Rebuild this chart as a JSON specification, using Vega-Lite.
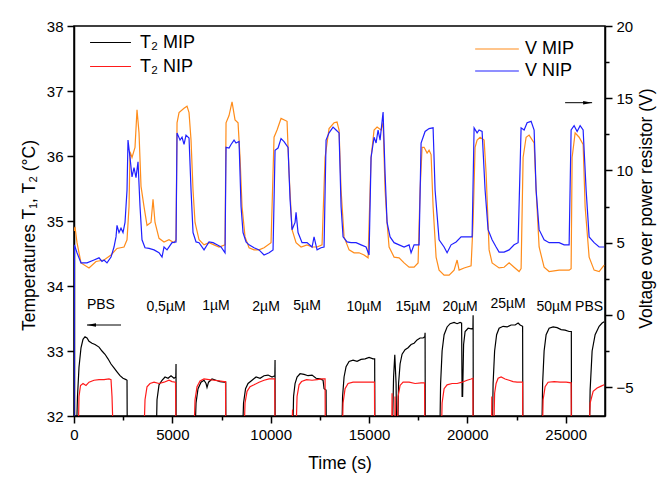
{
"$schema": "https://vega.github.io/schema/vega-lite/v6.json",
"width": 531, "height": 390,
"autosize": {"type": "none"},
"padding": {"left": 74, "top": 26, "right": 52, "bottom": 61},
"config": {
 "font": "Liberation Sans",
 "view": {"stroke": "black", "strokeWidth": 1.5},
 "axis": {"grid": false, "domainColor": "black", "domainWidth": 1.5, "tickColor": "black", "tickWidth": 1.5, "labelColor": "black", "titleColor": "black", "labelFontSize": 15, "titleFontSize": 17.5, "titleFontWeight": "normal", "labelFont": "Liberation Sans", "titleFont": "Liberation Sans"},
 "legend": {"labelFont": "Liberation Sans", "labelFontSize": 18, "labelColor": "black"}
},
"datasets": {
 "temp": [
  {"g":"T₂ MIP","t":0,"T":31.5},{"g":"T₂ MIP","t":102,"T":31.5},{"g":"T₂ MIP","t":178,"T":32.3},{"g":"T₂ MIP","t":254,"T":32.75},{"g":"T₂ MIP","t":356,"T":33.05},{"g":"T₂ MIP","t":458,"T":33.18},{"g":"T₂ MIP","t":559,"T":33.22},{"g":"T₂ MIP","t":661,"T":33.2},{"g":"T₂ MIP","t":763,"T":33.15},{"g":"T₂ MIP","t":915,"T":33.12},{"g":"T₂ MIP","t":1068,"T":33.1},{"g":"T₂ MIP","t":1272,"T":33.06},{"g":"T₂ MIP","t":1424,"T":33.0},{"g":"T₂ MIP","t":1577,"T":32.95},{"g":"T₂ MIP","t":1729,"T":32.88},{"g":"T₂ MIP","t":1882,"T":32.8},{"g":"T₂ MIP","t":2034,"T":32.74},{"g":"T₂ MIP","t":2187,"T":32.68},{"g":"T₂ MIP","t":2340,"T":32.62},{"g":"T₂ MIP","t":2492,"T":32.58},{"g":"T₂ MIP","t":2645,"T":32.56},{"g":"T₂ MIP","t":2696,"T":32.55},{"g":"T₂ MIP","t":2711,"T":31.5},
  {"g":"T₂ MIP","t":4171,"T":31.5},{"g":"T₂ MIP","t":4221,"T":32.25},{"g":"T₂ MIP","t":4323,"T":32.48},{"g":"T₂ MIP","t":4476,"T":32.55},{"g":"T₂ MIP","t":4628,"T":32.6},{"g":"T₂ MIP","t":4781,"T":32.58},{"g":"T₂ MIP","t":4933,"T":32.62},{"g":"T₂ MIP","t":5086,"T":32.58},{"g":"T₂ MIP","t":5178,"T":32.6},{"g":"T₂ MIP","t":5188,"T":32.8},{"g":"T₂ MIP","t":5193,"T":31.5},
  {"g":"T₂ MIP","t":6129,"T":31.5},{"g":"T₂ MIP","t":6205,"T":32.2},{"g":"T₂ MIP","t":6306,"T":32.42},{"g":"T₂ MIP","t":6459,"T":32.52},{"g":"T₂ MIP","t":6612,"T":32.55},{"g":"T₂ MIP","t":6714,"T":32.5},{"g":"T₂ MIP","t":6764,"T":32.44},{"g":"T₂ MIP","t":6841,"T":32.52},{"g":"T₂ MIP","t":7019,"T":32.57},{"g":"T₂ MIP","t":7222,"T":32.55},{"g":"T₂ MIP","t":7426,"T":32.53},{"g":"T₂ MIP","t":7629,"T":32.52},{"g":"T₂ MIP","t":7715,"T":32.52},{"g":"T₂ MIP","t":7725,"T":31.5},
  {"g":"T₂ MIP","t":8544,"T":31.5},{"g":"T₂ MIP","t":8621,"T":32.2},{"g":"T₂ MIP","t":8723,"T":32.42},{"g":"T₂ MIP","t":8850,"T":32.5},{"g":"T₂ MIP","t":9053,"T":32.55},{"g":"T₂ MIP","t":9257,"T":32.6},{"g":"T₂ MIP","t":9460,"T":32.58},{"g":"T₂ MIP","t":9663,"T":32.62},{"g":"T₂ MIP","t":9867,"T":32.63},{"g":"T₂ MIP","t":10070,"T":32.6},{"g":"T₂ MIP","t":10213,"T":32.62},{"g":"T₂ MIP","t":10223,"T":32.86},{"g":"T₂ MIP","t":10228,"T":31.5},
  {"g":"T₂ MIP","t":11113,"T":31.5},{"g":"T₂ MIP","t":11164,"T":32.3},{"g":"T₂ MIP","t":11240,"T":32.5},{"g":"T₂ MIP","t":11342,"T":32.6},{"g":"T₂ MIP","t":11494,"T":32.65},{"g":"T₂ MIP","t":11698,"T":32.64},{"g":"T₂ MIP","t":11901,"T":32.62},{"g":"T₂ MIP","t":12105,"T":32.63},{"g":"T₂ MIP","t":12308,"T":32.58},{"g":"T₂ MIP","t":12512,"T":32.57},{"g":"T₂ MIP","t":12664,"T":32.55},{"g":"T₂ MIP","t":12715,"T":32.42},{"g":"T₂ MIP","t":12817,"T":32.4},{"g":"T₂ MIP","t":12832,"T":31.5},
  {"g":"T₂ MIP","t":13605,"T":31.5},{"g":"T₂ MIP","t":13656,"T":32.3},{"g":"T₂ MIP","t":13732,"T":32.6},{"g":"T₂ MIP","t":13834,"T":32.76},{"g":"T₂ MIP","t":13987,"T":32.84},{"g":"T₂ MIP","t":14190,"T":32.86},{"g":"T₂ MIP","t":14393,"T":32.84},{"g":"T₂ MIP","t":14597,"T":32.87},{"g":"T₂ MIP","t":14800,"T":32.88},{"g":"T₂ MIP","t":15004,"T":32.9},{"g":"T₂ MIP","t":15207,"T":32.88},{"g":"T₂ MIP","t":15288,"T":32.88},{"g":"T₂ MIP","t":15303,"T":31.5},
  {"g":"T₂ MIP","t":16173,"T":31.5},{"g":"T₂ MIP","t":16250,"T":32.6},{"g":"T₂ MIP","t":16311,"T":32.94},{"g":"T₂ MIP","t":16377,"T":32.5},{"g":"T₂ MIP","t":16412,"T":31.5},{"g":"T₂ MIP","t":16443,"T":31.5},{"g":"T₂ MIP","t":16504,"T":32.5},{"g":"T₂ MIP","t":16580,"T":32.8},{"g":"T₂ MIP","t":16682,"T":32.95},{"g":"T₂ MIP","t":16834,"T":33.02},{"g":"T₂ MIP","t":16987,"T":33.05},{"g":"T₂ MIP","t":17140,"T":33.1},{"g":"T₂ MIP","t":17292,"T":33.12},{"g":"T₂ MIP","t":17445,"T":33.17},{"g":"T₂ MIP","t":17598,"T":33.2},{"g":"T₂ MIP","t":17750,"T":33.2},{"g":"T₂ MIP","t":17837,"T":33.22},{"g":"T₂ MIP","t":17852,"T":33.28},{"g":"T₂ MIP","t":17862,"T":31.5},
  {"g":"T₂ MIP","t":18590,"T":31.5},{"g":"T₂ MIP","t":18641,"T":32.5},{"g":"T₂ MIP","t":18717,"T":33.0},{"g":"T₂ MIP","t":18819,"T":33.25},{"g":"T₂ MIP","t":18971,"T":33.37},{"g":"T₂ MIP","t":19124,"T":33.42},{"g":"T₂ MIP","t":19327,"T":33.44},{"g":"T₂ MIP","t":19480,"T":33.42},{"g":"T₂ MIP","t":19632,"T":33.44},{"g":"T₂ MIP","t":19709,"T":33.43},{"g":"T₂ MIP","t":19734,"T":32.3},{"g":"T₂ MIP","t":19760,"T":32.3},{"g":"T₂ MIP","t":19810,"T":33.1},{"g":"T₂ MIP","t":19887,"T":33.3},{"g":"T₂ MIP","t":20040,"T":33.35},{"g":"T₂ MIP","t":20192,"T":33.34},{"g":"T₂ MIP","t":20284,"T":33.35},{"g":"T₂ MIP","t":20294,"T":33.55},{"g":"T₂ MIP","t":20304,"T":31.5},
  {"g":"T₂ MIP","t":21260,"T":31.5},{"g":"T₂ MIP","t":21310,"T":32.5},{"g":"T₂ MIP","t":21387,"T":33.0},{"g":"T₂ MIP","t":21489,"T":33.25},{"g":"T₂ MIP","t":21616,"T":33.35},{"g":"T₂ MIP","t":21820,"T":33.38},{"g":"T₂ MIP","t":22023,"T":33.37},{"g":"T₂ MIP","t":22226,"T":33.4},{"g":"T₂ MIP","t":22430,"T":33.4},{"g":"T₂ MIP","t":22582,"T":33.43},{"g":"T₂ MIP","t":22684,"T":33.4},{"g":"T₂ MIP","t":22811,"T":33.38},{"g":"T₂ MIP","t":22826,"T":31.5},
  {"g":"T₂ MIP","t":23777,"T":31.5},{"g":"T₂ MIP","t":23828,"T":32.5},{"g":"T₂ MIP","t":23904,"T":33.0},{"g":"T₂ MIP","t":24006,"T":33.25},{"g":"T₂ MIP","t":24159,"T":33.35},{"g":"T₂ MIP","t":24362,"T":33.37},{"g":"T₂ MIP","t":24565,"T":33.36},{"g":"T₂ MIP","t":24769,"T":33.33},{"g":"T₂ MIP","t":24972,"T":33.32},{"g":"T₂ MIP","t":25176,"T":33.3},{"g":"T₂ MIP","t":25288,"T":33.3},{"g":"T₂ MIP","t":25298,"T":31.5},
  {"g":"T₂ MIP","t":26193,"T":31.5},{"g":"T₂ MIP","t":26244,"T":32.4},{"g":"T₂ MIP","t":26345,"T":33.0},{"g":"T₂ MIP","t":26498,"T":33.25},{"g":"T₂ MIP","t":26702,"T":33.38},{"g":"T₂ MIP","t":26854,"T":33.43},{"g":"T₂ MIP","t":26956,"T":33.45},
  {"g":"T₂ NIP","t":0,"T":31.5},{"g":"T₂ NIP","t":203,"T":31.5},{"g":"T₂ NIP","t":254,"T":32.3},{"g":"T₂ NIP","t":331,"T":32.47},{"g":"T₂ NIP","t":458,"T":32.5},{"g":"T₂ NIP","t":610,"T":32.47},{"g":"T₂ NIP","t":763,"T":32.52},{"g":"T₂ NIP","t":1017,"T":32.55},{"g":"T₂ NIP","t":1272,"T":32.56},{"g":"T₂ NIP","t":1526,"T":32.56},{"g":"T₂ NIP","t":1780,"T":32.57},{"g":"T₂ NIP","t":1882,"T":32.56},{"g":"T₂ NIP","t":1933,"T":32.3},{"g":"T₂ NIP","t":1984,"T":31.8},{"g":"T₂ NIP","t":2034,"T":31.5},
  {"g":"T₂ NIP","t":3535,"T":31.5},{"g":"T₂ NIP","t":3611,"T":32.25},{"g":"T₂ NIP","t":3713,"T":32.45},{"g":"T₂ NIP","t":3865,"T":32.5},{"g":"T₂ NIP","t":4069,"T":32.52},{"g":"T₂ NIP","t":4323,"T":32.5},{"g":"T₂ NIP","t":4577,"T":32.52},{"g":"T₂ NIP","t":4831,"T":32.55},{"g":"T₂ NIP","t":4984,"T":32.53},{"g":"T₂ NIP","t":5162,"T":32.52},{"g":"T₂ NIP","t":5188,"T":31.5},
  {"g":"T₂ NIP","t":6079,"T":31.5},{"g":"T₂ NIP","t":6154,"T":32.25},{"g":"T₂ NIP","t":6256,"T":32.45},{"g":"T₂ NIP","t":6408,"T":32.54},{"g":"T₂ NIP","t":6612,"T":32.57},{"g":"T₂ NIP","t":6866,"T":32.56},{"g":"T₂ NIP","t":7120,"T":32.55},{"g":"T₂ NIP","t":7375,"T":32.54},{"g":"T₂ NIP","t":7629,"T":32.53},{"g":"T₂ NIP","t":7705,"T":32.53},{"g":"T₂ NIP","t":7720,"T":31.5},
  {"g":"T₂ NIP","t":8621,"T":31.5},{"g":"T₂ NIP","t":8697,"T":32.2},{"g":"T₂ NIP","t":8799,"T":32.38},{"g":"T₂ NIP","t":8951,"T":32.45},{"g":"T₂ NIP","t":9155,"T":32.48},{"g":"T₂ NIP","t":9409,"T":32.52},{"g":"T₂ NIP","t":9663,"T":32.55},{"g":"T₂ NIP","t":9918,"T":32.57},{"g":"T₂ NIP","t":10208,"T":32.57},{"g":"T₂ NIP","t":10223,"T":31.5},
  {"g":"T₂ NIP","t":11062,"T":31.5},{"g":"T₂ NIP","t":11113,"T":32.1},{"g":"T₂ NIP","t":11149,"T":31.5},{"g":"T₂ NIP","t":11266,"T":31.5},{"g":"T₂ NIP","t":11342,"T":32.3},{"g":"T₂ NIP","t":11444,"T":32.48},{"g":"T₂ NIP","t":11571,"T":32.53},{"g":"T₂ NIP","t":11825,"T":32.56},{"g":"T₂ NIP","t":12105,"T":32.55},{"g":"T₂ NIP","t":12359,"T":32.56},{"g":"T₂ NIP","t":12613,"T":32.57},{"g":"T₂ NIP","t":12766,"T":32.57},{"g":"T₂ NIP","t":12781,"T":31.5},
  {"g":"T₂ NIP","t":13630,"T":31.5},{"g":"T₂ NIP","t":13681,"T":32.2},{"g":"T₂ NIP","t":13783,"T":32.42},{"g":"T₂ NIP","t":13936,"T":32.5},{"g":"T₂ NIP","t":14190,"T":32.52},{"g":"T₂ NIP","t":14495,"T":32.52},{"g":"T₂ NIP","t":14800,"T":32.52},{"g":"T₂ NIP","t":15105,"T":32.52},{"g":"T₂ NIP","t":15278,"T":32.52},{"g":"T₂ NIP","t":15293,"T":31.5},
  {"g":"T₂ NIP","t":16148,"T":31.5},{"g":"T₂ NIP","t":16173,"T":32.35},{"g":"T₂ NIP","t":16199,"T":31.5},{"g":"T₂ NIP","t":16301,"T":31.5},{"g":"T₂ NIP","t":16326,"T":32.3},{"g":"T₂ NIP","t":16352,"T":31.5},{"g":"T₂ NIP","t":16428,"T":31.5},{"g":"T₂ NIP","t":16479,"T":32.3},{"g":"T₂ NIP","t":16580,"T":32.47},{"g":"T₂ NIP","t":16733,"T":32.52},{"g":"T₂ NIP","t":17038,"T":32.52},{"g":"T₂ NIP","t":17343,"T":32.5},{"g":"T₂ NIP","t":17648,"T":32.51},{"g":"T₂ NIP","t":17826,"T":32.51},{"g":"T₂ NIP","t":17842,"T":31.5},
  {"g":"T₂ NIP","t":18666,"T":31.5},{"g":"T₂ NIP","t":18717,"T":32.2},{"g":"T₂ NIP","t":18819,"T":32.42},{"g":"T₂ NIP","t":18971,"T":32.48},{"g":"T₂ NIP","t":19226,"T":32.5},{"g":"T₂ NIP","t":19480,"T":32.5},{"g":"T₂ NIP","t":19734,"T":32.52},{"g":"T₂ NIP","t":19989,"T":32.55},{"g":"T₂ NIP","t":20192,"T":32.57},{"g":"T₂ NIP","t":20284,"T":32.58},{"g":"T₂ NIP","t":20294,"T":31.5},
  {"g":"T₂ NIP","t":21225,"T":31.5},{"g":"T₂ NIP","t":21245,"T":32.3},{"g":"T₂ NIP","t":21265,"T":31.5},{"g":"T₂ NIP","t":21326,"T":31.5},{"g":"T₂ NIP","t":21387,"T":32.35},{"g":"T₂ NIP","t":21463,"T":32.5},{"g":"T₂ NIP","t":21565,"T":32.58},{"g":"T₂ NIP","t":21718,"T":32.6},{"g":"T₂ NIP","t":21921,"T":32.57},{"g":"T₂ NIP","t":22124,"T":32.55},{"g":"T₂ NIP","t":22328,"T":32.53},{"g":"T₂ NIP","t":22531,"T":32.52},{"g":"T₂ NIP","t":22811,"T":32.52},{"g":"T₂ NIP","t":22826,"T":31.5},
  {"g":"T₂ NIP","t":23802,"T":31.5},{"g":"T₂ NIP","t":23853,"T":32.25},{"g":"T₂ NIP","t":23955,"T":32.45},{"g":"T₂ NIP","t":24108,"T":32.52},{"g":"T₂ NIP","t":24413,"T":32.53},{"g":"T₂ NIP","t":24718,"T":32.52},{"g":"T₂ NIP","t":25023,"T":32.52},{"g":"T₂ NIP","t":25278,"T":32.51},{"g":"T₂ NIP","t":25293,"T":31.5},
  {"g":"T₂ NIP","t":26168,"T":31.5},{"g":"T₂ NIP","t":26244,"T":32.2},{"g":"T₂ NIP","t":26397,"T":32.38},{"g":"T₂ NIP","t":26600,"T":32.43},{"g":"T₂ NIP","t":26804,"T":32.46},{"g":"T₂ NIP","t":26956,"T":32.48}
 ],
 "volt": [
  {"s":"V MIP","t":0,"v":5.8},{"s":"V MIP","t":51,"v":6.1},{"s":"V MIP","t":153,"v":5.0},{"s":"V MIP","t":356,"v":3.6},{"s":"V MIP","t":763,"v":3.25},{"s":"V MIP","t":1119,"v":3.7},{"s":"V MIP","t":1526,"v":3.8},{"s":"V MIP","t":1882,"v":4.15},{"s":"V MIP","t":2187,"v":4.6},{"s":"V MIP","t":2543,"v":4.7},{"s":"V MIP","t":2696,"v":5.2},{"s":"V MIP","t":2798,"v":7.5},{"s":"V MIP","t":2848,"v":11.3},{"s":"V MIP","t":2950,"v":10.9},{"s":"V MIP","t":3102,"v":11.6},{"s":"V MIP","t":3204,"v":14.2},{"s":"V MIP","t":3306,"v":12.6},{"s":"V MIP","t":3408,"v":8.9},{"s":"V MIP","t":3560,"v":7.5},{"s":"V MIP","t":3713,"v":6.2},{"s":"V MIP","t":3916,"v":6.4},{"s":"V MIP","t":4018,"v":8.0},{"s":"V MIP","t":4120,"v":6.4},{"s":"V MIP","t":4323,"v":5.3},{"s":"V MIP","t":4577,"v":5.05},{"s":"V MIP","t":4831,"v":5.2},{"s":"V MIP","t":5086,"v":5.0},{"s":"V MIP","t":5188,"v":5.2},{"s":"V MIP","t":5239,"v":13.3},{"s":"V MIP","t":5341,"v":14.0},{"s":"V MIP","t":5595,"v":14.3},{"s":"V MIP","t":5747,"v":14.45},{"s":"V MIP","t":5849,"v":14.0},{"s":"V MIP","t":5951,"v":12.1},{"s":"V MIP","t":6052,"v":8.65},{"s":"V MIP","t":6154,"v":6.4},{"s":"V MIP","t":6358,"v":5.2},{"s":"V MIP","t":6612,"v":4.85},{"s":"V MIP","t":6866,"v":5.0},{"s":"V MIP","t":7120,"v":4.85},{"s":"V MIP","t":7375,"v":4.7},{"s":"V MIP","t":7680,"v":4.85},{"s":"V MIP","t":7731,"v":13.3},{"s":"V MIP","t":7883,"v":13.8},{"s":"V MIP","t":8036,"v":14.75},{"s":"V MIP","t":8188,"v":13.5},{"s":"V MIP","t":8341,"v":13.3},{"s":"V MIP","t":8443,"v":10.9},{"s":"V MIP","t":8544,"v":7.5},{"s":"V MIP","t":8697,"v":5.4},{"s":"V MIP","t":8901,"v":4.65},{"s":"V MIP","t":9155,"v":4.5},{"s":"V MIP","t":9409,"v":4.5},{"s":"V MIP","t":9663,"v":4.65},{"s":"V MIP","t":10019,"v":5.0},{"s":"V MIP","t":10172,"v":12.3},{"s":"V MIP","t":10325,"v":12.8},{"s":"V MIP","t":10528,"v":13.6},{"s":"V MIP","t":10833,"v":13.4},{"s":"V MIP","t":10935,"v":9.8},{"s":"V MIP","t":11087,"v":5.9},{"s":"V MIP","t":11291,"v":5.0},{"s":"V MIP","t":11545,"v":4.7},{"s":"V MIP","t":11850,"v":4.85},{"s":"V MIP","t":12105,"v":4.7},{"s":"V MIP","t":12359,"v":4.7},{"s":"V MIP","t":12613,"v":4.85},{"s":"V MIP","t":12766,"v":10.9},{"s":"V MIP","t":12969,"v":12.9},{"s":"V MIP","t":13224,"v":13.3},{"s":"V MIP","t":13376,"v":13.35},{"s":"V MIP","t":13478,"v":12.8},{"s":"V MIP","t":13580,"v":8.65},{"s":"V MIP","t":13732,"v":5.4},{"s":"V MIP","t":13987,"v":4.5},{"s":"V MIP","t":14241,"v":4.3},{"s":"V MIP","t":14495,"v":4.3},{"s":"V MIP","t":14749,"v":4.15},{"s":"V MIP","t":14953,"v":3.95},{"s":"V MIP","t":15105,"v":10.9},{"s":"V MIP","t":15258,"v":12.8},{"s":"V MIP","t":15411,"v":13.0},{"s":"V MIP","t":15614,"v":12.8},{"s":"V MIP","t":15716,"v":13.3},{"s":"V MIP","t":15817,"v":8.65},{"s":"V MIP","t":15919,"v":6.4},{"s":"V MIP","t":16021,"v":4.7},{"s":"V MIP","t":16275,"v":4.0},{"s":"V MIP","t":16530,"v":3.95},{"s":"V MIP","t":16784,"v":3.6},{"s":"V MIP","t":17038,"v":3.3},{"s":"V MIP","t":17292,"v":3.3},{"s":"V MIP","t":17496,"v":3.6},{"s":"V MIP","t":17598,"v":8.65},{"s":"V MIP","t":17699,"v":11.6},{"s":"V MIP","t":17801,"v":11.6},{"s":"V MIP","t":17954,"v":11.2},{"s":"V MIP","t":18055,"v":11.4},{"s":"V MIP","t":18157,"v":11.1},{"s":"V MIP","t":18259,"v":7.5},{"s":"V MIP","t":18411,"v":4.0},{"s":"V MIP","t":18564,"v":3.1},{"s":"V MIP","t":18818,"v":2.75},{"s":"V MIP","t":19073,"v":2.75},{"s":"V MIP","t":19327,"v":3.1},{"s":"V MIP","t":19480,"v":3.8},{"s":"V MIP","t":19581,"v":3.1},{"s":"V MIP","t":19835,"v":3.25},{"s":"V MIP","t":20191,"v":3.4},{"s":"V MIP","t":20293,"v":6.4},{"s":"V MIP","t":20394,"v":11.6},{"s":"V MIP","t":20497,"v":12.1},{"s":"V MIP","t":20649,"v":12.3},{"s":"V MIP","t":20853,"v":12.1},{"s":"V MIP","t":20955,"v":9.8},{"s":"V MIP","t":21107,"v":4.5},{"s":"V MIP","t":21259,"v":3.6},{"s":"V MIP","t":21615,"v":3.25},{"s":"V MIP","t":21870,"v":3.3},{"s":"V MIP","t":22124,"v":3.6},{"s":"V MIP","t":22378,"v":3.3},{"s":"V MIP","t":22633,"v":3.0},{"s":"V MIP","t":22734,"v":3.2},{"s":"V MIP","t":22836,"v":10.9},{"s":"V MIP","t":22989,"v":12.3},{"s":"V MIP","t":23141,"v":12.45},{"s":"V MIP","t":23396,"v":11.9},{"s":"V MIP","t":23497,"v":8.65},{"s":"V MIP","t":23650,"v":4.7},{"s":"V MIP","t":23904,"v":3.3},{"s":"V MIP","t":24159,"v":3.0},{"s":"V MIP","t":24667,"v":3.1},{"s":"V MIP","t":25176,"v":3.1},{"s":"V MIP","t":25277,"v":3.2},{"s":"V MIP","t":25328,"v":10.9},{"s":"V MIP","t":25481,"v":12.6},{"s":"V MIP","t":25684,"v":12.3},{"s":"V MIP","t":25888,"v":11.8},{"s":"V MIP","t":25989,"v":7.5},{"s":"V MIP","t":26193,"v":4.0},{"s":"V MIP","t":26447,"v":3.1},{"s":"V MIP","t":26702,"v":3.0},{"s":"V MIP","t":26956,"v":3.45},
  {"s":"V NIP","t":0,"v":-8},{"s":"V NIP","t":20,"v":4.85},{"s":"V NIP","t":153,"v":4.3},{"s":"V NIP","t":356,"v":3.6},{"s":"V NIP","t":661,"v":3.6},{"s":"V NIP","t":1017,"v":3.8},{"s":"V NIP","t":1272,"v":3.95},{"s":"V NIP","t":1424,"v":3.7},{"s":"V NIP","t":1526,"v":3.8},{"s":"V NIP","t":1678,"v":3.6},{"s":"V NIP","t":1882,"v":4.0},{"s":"V NIP","t":2034,"v":4.7},{"s":"V NIP","t":2136,"v":5.4},{"s":"V NIP","t":2187,"v":6.2},{"s":"V NIP","t":2289,"v":5.7},{"s":"V NIP","t":2390,"v":6.0},{"s":"V NIP","t":2492,"v":5.7},{"s":"V NIP","t":2594,"v":6.4},{"s":"V NIP","t":2696,"v":8.65},{"s":"V NIP","t":2746,"v":12.1},{"s":"V NIP","t":2848,"v":10.9},{"s":"V NIP","t":2950,"v":9.55},{"s":"V NIP","t":3052,"v":10.2},{"s":"V NIP","t":3153,"v":9.5},{"s":"V NIP","t":3255,"v":10.6},{"s":"V NIP","t":3357,"v":7.5},{"s":"V NIP","t":3458,"v":5.2},{"s":"V NIP","t":3611,"v":4.65},{"s":"V NIP","t":3815,"v":4.6},{"s":"V NIP","t":4069,"v":4.5},{"s":"V NIP","t":4323,"v":4.3},{"s":"V NIP","t":4476,"v":4.0},{"s":"V NIP","t":4577,"v":4.7},{"s":"V NIP","t":4730,"v":4.5},{"s":"V NIP","t":4984,"v":5.0},{"s":"V NIP","t":5188,"v":5.05},{"s":"V NIP","t":5239,"v":12.6},{"s":"V NIP","t":5392,"v":12.1},{"s":"V NIP","t":5493,"v":12.3},{"s":"V NIP","t":5595,"v":11.8},{"s":"V NIP","t":5696,"v":12.45},{"s":"V NIP","t":5849,"v":12.25},{"s":"V NIP","t":5951,"v":8.65},{"s":"V NIP","t":6052,"v":5.7},{"s":"V NIP","t":6205,"v":5.05},{"s":"V NIP","t":6358,"v":5.0},{"s":"V NIP","t":6612,"v":4.5},{"s":"V NIP","t":6866,"v":5.05},{"s":"V NIP","t":7070,"v":5.0},{"s":"V NIP","t":7273,"v":4.85},{"s":"V NIP","t":7476,"v":4.7},{"s":"V NIP","t":7680,"v":4.3},{"s":"V NIP","t":7731,"v":11.6},{"s":"V NIP","t":7883,"v":11.55},{"s":"V NIP","t":7985,"v":11.8},{"s":"V NIP","t":8138,"v":12.1},{"s":"V NIP","t":8239,"v":11.9},{"s":"V NIP","t":8392,"v":12.0},{"s":"V NIP","t":8494,"v":7.5},{"s":"V NIP","t":8595,"v":5.7},{"s":"V NIP","t":8748,"v":5.05},{"s":"V NIP","t":8901,"v":4.85},{"s":"V NIP","t":9155,"v":4.65},{"s":"V NIP","t":9409,"v":4.5},{"s":"V NIP","t":9663,"v":4.15},{"s":"V NIP","t":9918,"v":4.3},{"s":"V NIP","t":10121,"v":4.5},{"s":"V NIP","t":10223,"v":11.4},{"s":"V NIP","t":10375,"v":11.55},{"s":"V NIP","t":10528,"v":12.2},{"s":"V NIP","t":10681,"v":12.0},{"s":"V NIP","t":10884,"v":11.6},{"s":"V NIP","t":10986,"v":8.0},{"s":"V NIP","t":11087,"v":5.9},{"s":"V NIP","t":11240,"v":6.4},{"s":"V NIP","t":11291,"v":7.1},{"s":"V NIP","t":11392,"v":5.7},{"s":"V NIP","t":11596,"v":5.0},{"s":"V NIP","t":11850,"v":5.0},{"s":"V NIP","t":12105,"v":4.7},{"s":"V NIP","t":12206,"v":5.4},{"s":"V NIP","t":12359,"v":4.5},{"s":"V NIP","t":12562,"v":4.65},{"s":"V NIP","t":12715,"v":4.7},{"s":"V NIP","t":12817,"v":12.1},{"s":"V NIP","t":12969,"v":12.6},{"s":"V NIP","t":13173,"v":13.0},{"s":"V NIP","t":13325,"v":12.8},{"s":"V NIP","t":13478,"v":12.6},{"s":"V NIP","t":13580,"v":7.5},{"s":"V NIP","t":13681,"v":5.4},{"s":"V NIP","t":13885,"v":5.05},{"s":"V NIP","t":14088,"v":5.0},{"s":"V NIP","t":14343,"v":5.0},{"s":"V NIP","t":14597,"v":4.85},{"s":"V NIP","t":14851,"v":4.7},{"s":"V NIP","t":15004,"v":4.15},{"s":"V NIP","t":15105,"v":10.9},{"s":"V NIP","t":15258,"v":12.3},{"s":"V NIP","t":15360,"v":11.9},{"s":"V NIP","t":15461,"v":12.8},{"s":"V NIP","t":15563,"v":12.1},{"s":"V NIP","t":15716,"v":14.05},{"s":"V NIP","t":15817,"v":9.8},{"s":"V NIP","t":15919,"v":6.4},{"s":"V NIP","t":16072,"v":5.4},{"s":"V NIP","t":16275,"v":5.0},{"s":"V NIP","t":16530,"v":4.85},{"s":"V NIP","t":16784,"v":4.7},{"s":"V NIP","t":17038,"v":4.85},{"s":"V NIP","t":17140,"v":4.3},{"s":"V NIP","t":17292,"v":4.85},{"s":"V NIP","t":17547,"v":4.85},{"s":"V NIP","t":17648,"v":11.9},{"s":"V NIP","t":17852,"v":12.7},{"s":"V NIP","t":18055,"v":12.9},{"s":"V NIP","t":18259,"v":12.95},{"s":"V NIP","t":18360,"v":8.65},{"s":"V NIP","t":18564,"v":5.2},{"s":"V NIP","t":18818,"v":4.7},{"s":"V NIP","t":18971,"v":4.3},{"s":"V NIP","t":19174,"v":4.85},{"s":"V NIP","t":19429,"v":5.05},{"s":"V NIP","t":19683,"v":5.4},{"s":"V NIP","t":19886,"v":5.4},{"s":"V NIP","t":20090,"v":5.4},{"s":"V NIP","t":20243,"v":5.4},{"s":"V NIP","t":20344,"v":12.95},{"s":"V NIP","t":20497,"v":12.6},{"s":"V NIP","t":20598,"v":12.8},{"s":"V NIP","t":20751,"v":12.7},{"s":"V NIP","t":20903,"v":8.65},{"s":"V NIP","t":21056,"v":5.9},{"s":"V NIP","t":21259,"v":5.2},{"s":"V NIP","t":21463,"v":4.7},{"s":"V NIP","t":21615,"v":4.35},{"s":"V NIP","t":21870,"v":4.35},{"s":"V NIP","t":22124,"v":4.5},{"s":"V NIP","t":22378,"v":4.85},{"s":"V NIP","t":22582,"v":5.0},{"s":"V NIP","t":22734,"v":12.95},{"s":"V NIP","t":22887,"v":12.8},{"s":"V NIP","t":23040,"v":13.3},{"s":"V NIP","t":23243,"v":13.4},{"s":"V NIP","t":23396,"v":12.8},{"s":"V NIP","t":23497,"v":8.65},{"s":"V NIP","t":23650,"v":5.9},{"s":"V NIP","t":23904,"v":5.2},{"s":"V NIP","t":24159,"v":5.0},{"s":"V NIP","t":24413,"v":5.0},{"s":"V NIP","t":24667,"v":5.0},{"s":"V NIP","t":24921,"v":4.85},{"s":"V NIP","t":25176,"v":4.85},{"s":"V NIP","t":25277,"v":12.8},{"s":"V NIP","t":25430,"v":13.1},{"s":"V NIP","t":25583,"v":12.7},{"s":"V NIP","t":25735,"v":13.1},{"s":"V NIP","t":25888,"v":12.8},{"s":"V NIP","t":26040,"v":8.65},{"s":"V NIP","t":26193,"v":5.4},{"s":"V NIP","t":26447,"v":5.0},{"s":"V NIP","t":26702,"v":4.7},{"s":"V NIP","t":26956,"v":4.7}
 ],
 "labels": [
  {"t":1370,"T":33.71,"label":"PBS"},{"t":4680,"T":33.67,"label":"0,5µM"},{"t":7220,"T":33.7,"label":"1µM"},{"t":9765,"T":33.68,"label":"2µM"},{"t":11850,"T":33.7,"label":"5µM"},{"t":14750,"T":33.68,"label":"10µM"},{"t":17240,"T":33.68,"label":"15µM"},{"t":19630,"T":33.68,"label":"20µM"},{"t":22070,"T":33.73,"label":"25µM"},{"t":24410,"T":33.68,"label":"50µM"},{"t":26190,"T":33.68,"label":"PBS"}
 ],
 "arrows": [
  {"t1":661,"t2":2390,"T":33.4,"head":890,"shape":"M-1,0L1,-0.4L1,0.4Z"},
  {"t1":24972,"t2":26345,"T":36.82,"head":26115,"shape":"M1,0L-1,-0.4L-1,0.4Z"}
 ]
},
"layer": [
 {"layer": [
  {"data": {"name": "temp"},
   "mark": {"type": "line", "clip": true, "strokeWidth": 1.2},
   "encoding": {
    "x": {"field": "t", "type": "quantitative", "scale": {"domain": [0, 27000], "nice": false},
      "axis": {"title": "Time (s)", "values": [0,2500,5000,7500,10000,12500,15000,17500,20000,22500,25000], "labelExpr": "datum.value % 5000 === 0 ? format(datum.value, 'd') : ''", "tickSize": {"condition": {"test": "datum.value % 5000 === 0", "value": 7}, "value": 4}, "labelPadding": 4, "titlePadding": 12, "labelFlush": false}},
    "y": {"field": "T", "type": "quantitative", "scale": {"domain": [32, 38], "nice": false, "zero": false},
      "axis": {"title": "Temperatures T₁, T₂ (°C)", "titleY": 209, "values": [32,32.5,33,33.5,34,34.5,35,35.5,36,36.5,37,37.5,38], "labelExpr": "datum.value % 1 === 0 ? format(datum.value, 'd') : ''", "tickSize": {"condition": {"test": "datum.value % 1 === 0", "value": 7}, "value": 4}, "labelPadding": 4, "titlePadding": 8, "labelFlush": false}},
    "stroke": {"field": "g", "type": "nominal", "scale": {"domain": ["T₂ MIP", "T₂ NIP"], "range": ["#000000", "#ff1a1a"]},
      "legend": {"title": null, "orient": "none", "legendX": 21.5, "legendY": 1.5, "symbolType": "M-1.46,0H1.46", "symbolSize": 784, "symbolStrokeWidth": 1.2, "labelOffset": 14.5, "rowPadding": 0, "padding": 0,
        "encode": {"symbols": {"update": {"stroke": {"signal": "datum.value === 'T₂ MIP' ? '#000000' : '#ff1a1a'"}}}}}}
   }},
  {"data": {"name": "labels"},
   "mark": {"type": "text", "fontSize": 14, "font": "Liberation Sans", "color": "black", "baseline": "middle", "align": "center"},
   "encoding": {"x": {"field": "t", "type": "quantitative"}, "y": {"field": "T", "type": "quantitative"}, "text": {"field": "label"}}},
  {"data": {"name": "arrows"},
   "mark": {"type": "rule", "color": "black", "strokeWidth": 1},
   "encoding": {"x": {"field": "t1", "type": "quantitative"}, "x2": {"field": "t2"}, "y": {"field": "T", "type": "quantitative"}}},
  {"data": {"name": "arrows"},
   "mark": {"type": "point", "filled": true, "color": "black", "size": 80, "opacity": 1},
   "encoding": {"x": {"field": "head", "type": "quantitative"}, "y": {"field": "T", "type": "quantitative"}, "shape": {"field": "shape", "type": "nominal", "scale": null, "legend": null}}}
 ]},
 {"data": {"name": "volt"},
  "mark": {"type": "line", "clip": true, "strokeWidth": 1.2},
  "encoding": {
   "x": {"field": "t", "type": "quantitative"},
   "y": {"field": "v", "type": "quantitative", "scale": {"domain": [-7, 20], "nice": false, "zero": false},
     "axis": {"orient": "right", "title": "Voltage over power resistor (V)", "titleAngle": 270, "titleY": 182, "values": [-5,-2.5,0,2.5,5,7.5,10,12.5,15,17.5,20], "labelExpr": "datum.value % 5 === 0 ? format(datum.value, 'd') : ''", "tickSize": {"condition": {"test": "datum.value % 5 === 0", "value": 7}, "value": 4}, "labelPadding": 4, "titlePadding": 22, "labelFlush": false}},
   "color": {"field": "s", "type": "nominal", "scale": {"domain": ["V MIP", "V NIP"], "range": ["#ff8c1a", "#2020ff"]},
     "legend": {"title": null, "orient": "none", "legendX": 410.5, "legendY": 10.5, "symbolType": "M-1.9,0H1.9", "symbolSize": 529, "symbolStrokeWidth": 1.2, "labelOffset": 15.5, "rowPadding": 0, "padding": 0,
        "encode": {"symbols": {"update": {"stroke": {"signal": "datum.value === 'V MIP' ? '#ff8c1a' : '#2020ff'"}}}}}}
  }}
],
"resolve": {"scale": {"y": "independent"}}
}
